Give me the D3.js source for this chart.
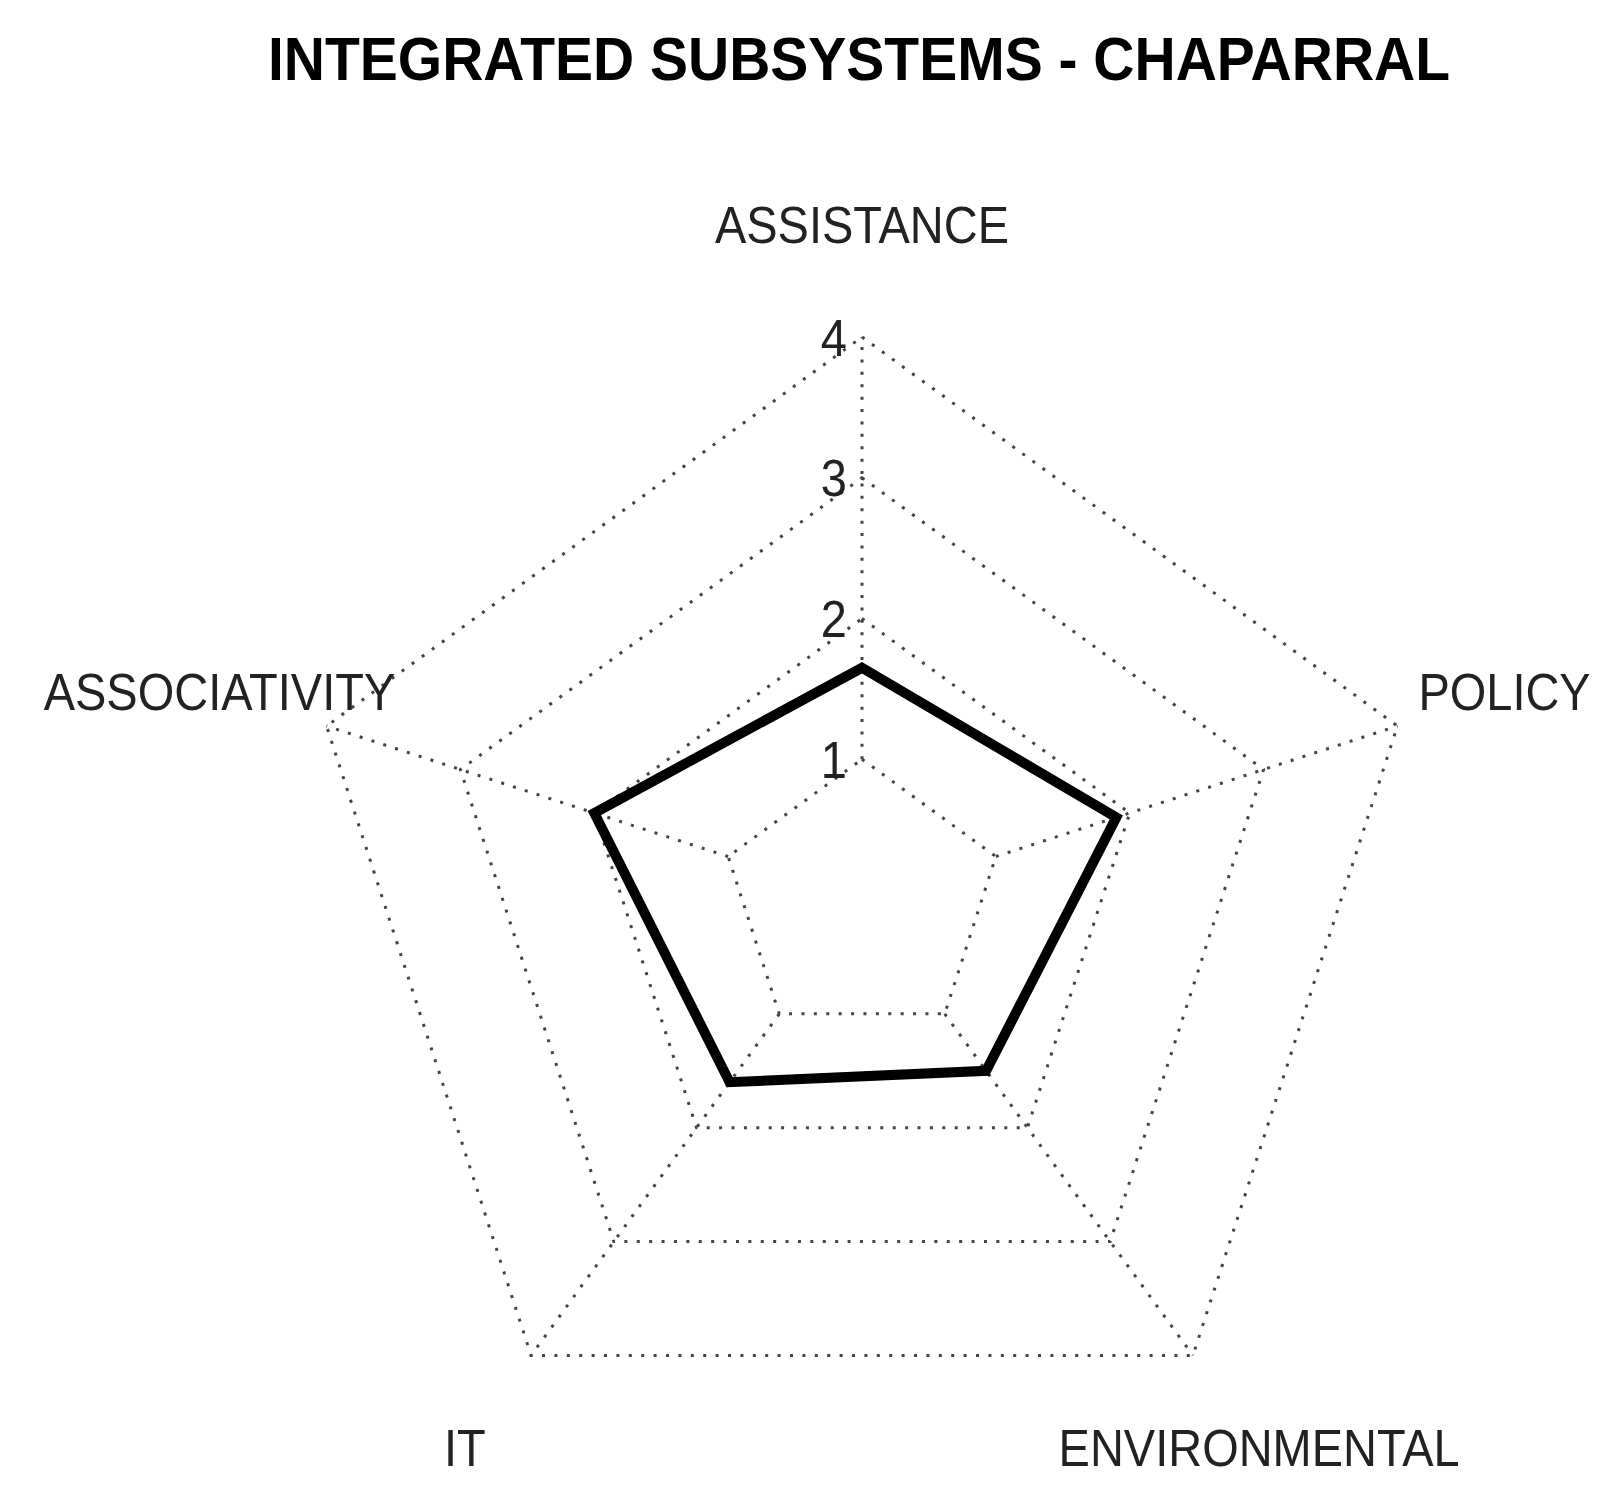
<!DOCTYPE html>
<html lang="en">
<head>
    <meta charset="UTF-8">
    <title>Integrated Subsystems - Chaparral</title>
    <script src="https://d3js.org/d3.v7.min.js"></script>
    <style>
        body { margin: 0; background: #fff; }
        text { font-family: "Liberation Sans", Arial, sans-serif; }
    </style>
</head>
<body>
    <div id="radar"></div>

    <script>
        // chart data
        const axes = ['ASSISTANCE', 'POLICY', 'ENVIRONMENTAL', 'IT', 'ASSOCIATIVITY'];
        const values = [1.65, 1.9, 1.5, 1.6, 2.0];
        const tickValues = [1, 2, 3, 4];
        const title = 'INTEGRATED SUBSYSTEMS - CHAPARRAL';

        const width = 1603;
        const height = 1508;
        const cx = 862, cy = 900;
        const R = 563;

        const svg = d3.select('#radar')
            .append('svg')
            .attr('width', width)
            .attr('height', height);

        svg.append('rect').attr('width', width).attr('height', height).attr('fill', '#fff');

        const g = svg.append('g').attr('transform', `translate(${cx}, ${cy})`);

        const r = d3.scaleLinear().domain([0, 4]).range([0, R]);
        const angle = d3.scalePoint().domain(axes).range([0, 2 * Math.PI * 4 / 5]);

        const pt = (a, v) => {
            const t = angle(a);
            return [Math.sin(t) * r(v), -Math.cos(t) * r(v)];
        };

        const dotted = sel => sel
            .attr('fill', 'none')
            .attr('stroke', '#444')
            .attr('stroke-width', 3)
            .attr('stroke-dasharray', '3 9.4');

        // grid rings
        const ring = d3.lineRadial()
            .angle(d => angle(d.a))
            .radius(d => r(d.v))
            .curve(d3.curveLinearClosed);

        g.selectAll('.ring')
            .data(tickValues)
            .enter()
            .append('path')
            .attr('class', 'ring')
            .attr('d', v => ring(axes.map(a => ({ a, v }))))
            .call(dotted);

        // spokes from the inner ring to the outer ring
        g.selectAll('.spoke')
            .data(axes)
            .enter()
            .append('line')
            .attr('class', 'spoke')
            .attr('x1', a => pt(a, tickValues[0])[0])
            .attr('y1', a => pt(a, tickValues[0])[1])
            .attr('x2', a => pt(a, d3.max(tickValues))[0])
            .attr('y2', a => pt(a, d3.max(tickValues))[1])
            .call(dotted);

        // tick labels
        g.selectAll('.tick')
            .data(tickValues)
            .enter()
            .append('text')
            .attr('class', 'tick')
            .attr('transform', v => `translate(${-R * 0.05}, ${-r(v)}) scale(1, 1.1)`)
            .attr('text-anchor', 'middle')
            .attr('dy', '0.36em')
            .attr('font-size', 47)
            .attr('fill', '#222')
            .text(v => v);

        // data polygon
        g.append('path')
            .datum(axes.map((a, i) => ({ a, v: values[i] })))
            .attr('d', ring)
            .attr('fill', 'none')
            .attr('stroke', '#000')
            .attr('stroke-width', 10)
            .attr('stroke-linejoin', 'miter');

        // axis labels
        g.selectAll('.axis-label')
            .data(axes)
            .enter()
            .append('text')
            .attr('class', 'axis-label')
            .attr('transform', a => {
                const p = pt(a, 4 * 1.2);
                return `translate(${p[0]}, ${p[1]}) scale(1, 1.12)`;
            })
            .attr('text-anchor', 'middle')
            .attr('dy', '0.36em')
            .attr('font-size', 47)
            .attr('fill', '#222')
            .text(a => a);

        // title
        svg.append('text')
            .attr('transform', 'translate(859, 80) scale(1, 1.08)')
            .attr('text-anchor', 'middle')
            .attr('font-size', 57)
            .attr('font-weight', 'bold')
            .attr('fill', '#000')
            .text(title);
    </script>
</body>
</html>
